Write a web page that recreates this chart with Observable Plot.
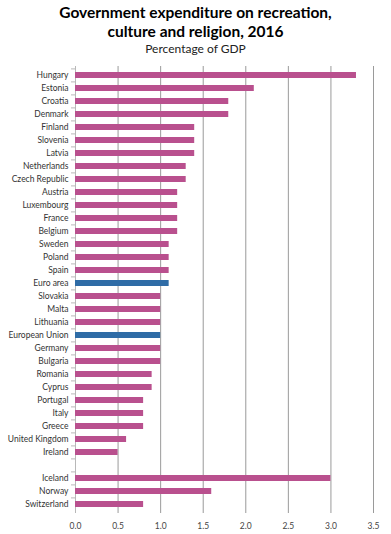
<!DOCTYPE html>
<html>
<head>
<meta charset="utf-8">
<script src="https://cdn.jsdelivr.net/npm/d3@7"></script>
<script src="https://cdn.jsdelivr.net/npm/@observablehq/plot@0.6"></script>
<style>
  html, body { margin: 0; padding: 0; background: #fff; }
  #wrap { width: 391px; font-family: Lato, "Open Sans", sans-serif; }
  .title { text-align: center; font-weight: bold; font-size: 15.5px; line-height: 19px; color: #000; padding-top: 3px; }
  .sub { text-align: center; font-size: 12px; line-height: 14px; color: #222; margin-top: 1px; }
</style>
</head>
<body>
<div id="wrap">
  <div class="title">Government expenditure on recreation,<br>culture and religion, 2016</div>
  <div class="sub">Percentage of GDP</div>
  <div id="chart"></div>
</div>
<script>
const countries = ["Hungary","Estonia","Croatia","Denmark","Finland","Slovenia","Latvia","Netherlands","Czech Republic","Austria","Luxembourg","France","Belgium","Sweden","Poland","Spain","Euro area","Slovakia","Malta","Lithuania","European Union","Germany","Bulgaria","Romania","Cyprus","Portugal","Italy","Greece","United Kingdom","Ireland"," ","Iceland","Norway","Switzerland"];
const values = [3.3,2.1,1.8,1.8,1.4,1.4,1.4,1.3,1.3,1.2,1.2,1.2,1.2,1.1,1.1,1.1,1.1,1.0,1.0,1.0,1.0,1.0,1.0,0.9,0.9,0.8,0.8,0.8,0.6,0.5,null,3.0,1.6,0.8];
const aggregates = ["Euro area","European Union"];
const xTicks = [0,0.5,1,1.5,2,2.5,3,3.5];

const data = countries.map((c, i) => ({country: c, value: values[i]})).filter(d => d.value != null);

const chart = Plot.plot({
  width: 391,
  height: 478,
  marginTop: 10,
  marginBottom: 21,
  marginLeft: 75,
  marginRight: 18,
  style: {fontFamily: "Lato, 'Open Sans', sans-serif", color: "#333", background: "#fff"},
  x: {domain: [0, 3.5], ticks: xTicks, tickFormat: d3.format(".1f"), label: null},
  y: {domain: countries, paddingInner: 0.55, paddingOuter: 0.275, label: null},
  marks: [
    Plot.ruleX(xTicks.filter(d => d > 0), {stroke: "#9a9a9a", strokeOpacity: 1}),
    Plot.ruleX([0], {stroke: "#b8b8b8"}),
    Plot.barX(data, {x: "value", y: "country", fill: d => aggregates.includes(d.country) ? "#2f6ca6" : "#b9508e"}),
    Plot.axisY({tickSize: 0, tickPadding: 7, fontSize: 8.5, fill: "#333"}),
    Plot.axisY({tickSize: 4, tickFormat: () => "", dy: -6.6, stroke: "#b8b8b8"}),
    Plot.axisX({ticks: xTicks, tickSize: 0, tickPadding: 9, fontSize: 8.5, fill: "#444", tickFormat: d3.format(".1f")})
  ]
});
document.getElementById("chart").appendChild(chart);
</script>
</body>
</html>
